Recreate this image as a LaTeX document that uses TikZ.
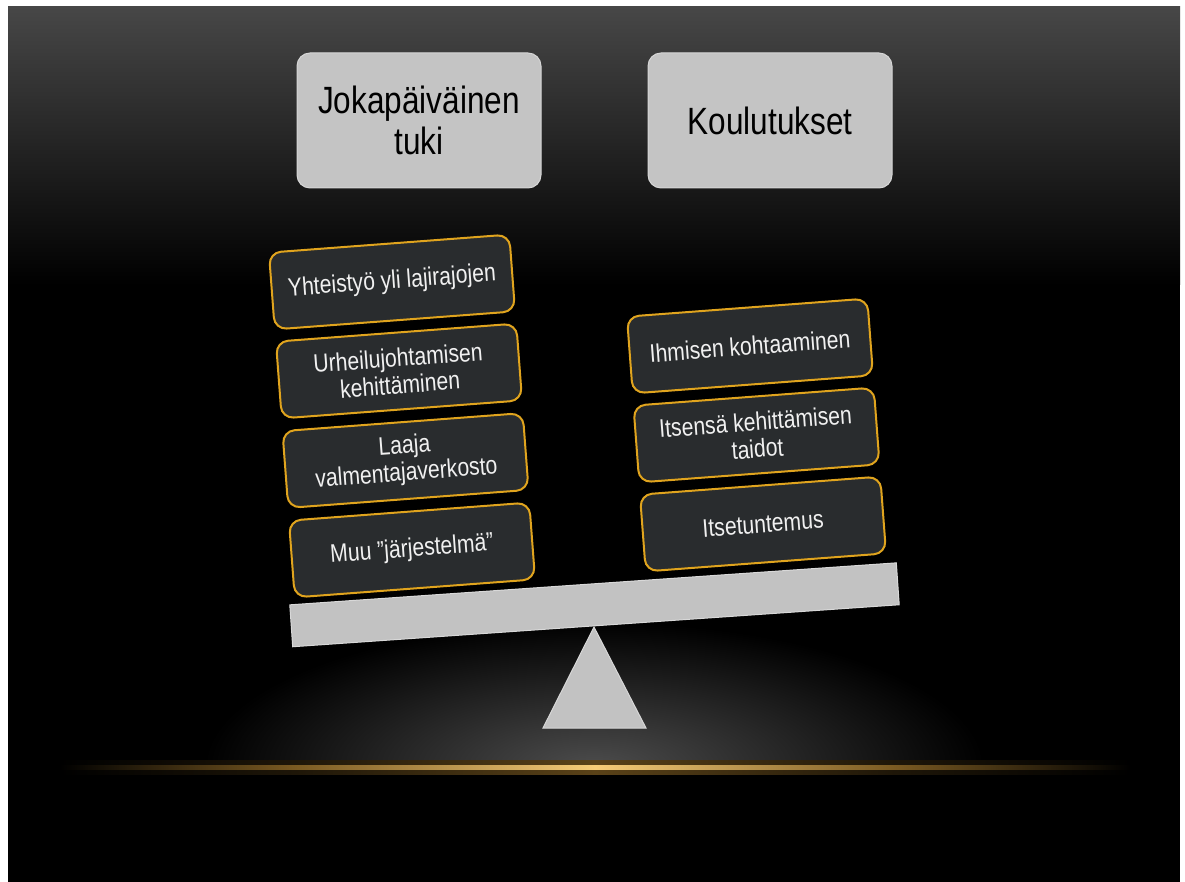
\documentclass[tikz,border=0pt]{standalone}
\usepackage{fontspec}
\newfontfamily\hfont{Liberation Sans}[FakeStretch=0.83]
\definecolor{slidetop}{HTML}{474747}
\definecolor{hdrfill}{HTML}{C4C4C4}
\definecolor{hdrdraw}{HTML}{D6D6D6}
\definecolor{boxfill}{HTML}{292C2E}
\definecolor{boxdraw}{HTML}{E0A41E}
\definecolor{beamfill}{HTML}{C2C2C2}
\definecolor{beamdraw}{HTML}{D8D8D8}
\definecolor{glowC}{HTML}{4C4C4C}
\definecolor{goldC}{HTML}{F6CC78}
\definecolor{goldD}{HTML}{7A5A22}
\definecolor{hazeC}{HTML}{5A4218}
\definecolor{hazeD}{HTML}{1E1608}
\pgfdeclarehorizontalshading{goldline}{100bp}{color(0bp)=(black); color(25bp)=(black); color(36bp)=(goldD); color(50bp)=(goldC); color(64bp)=(goldD); color(75bp)=(black); color(100bp)=(black)}
\pgfdeclarehorizontalshading{goldhaze}{100bp}{color(0bp)=(black); color(25bp)=(black); color(36bp)=(hazeD); color(50bp)=(hazeC); color(64bp)=(hazeD); color(75bp)=(black); color(100bp)=(black)}
\tikzset{
  hdr/.style={draw=hdrdraw, line width=1pt, fill=hdrfill, rounded corners=13pt,
    minimum width=244pt, minimum height=135pt, align=center, inner sep=0pt,
    text=black, font=\hfont\fontsize{38}{41}\selectfont},
  stackbox/.style={draw=boxdraw, line width=2pt, fill=boxfill, rounded corners=12pt,
    minimum width=241pt, minimum height=77pt, align=center, inner sep=0pt,
    text=white!94!black, font=\hfont\fontsize{25.5}{27}\selectfont, rotate=4.3},
  beamst/.style={draw=beamdraw, line width=1pt, fill=beamfill}
}
\begin{document}
\begin{tikzpicture}[x=1pt, y=-1pt]
\useasboundingbox (0,0) rectangle (1185,882);
\fill[white] (0,0) rectangle (1185,882);
% slide background
\fill[black] (8,7) rectangle (1180,882);
\shade[top color=slidetop, bottom color=black] (8,7) rectangle (1180,285);
% glow above the horizon line
\begin{scope}
  \clip (8,7) rectangle (1180,767);
  \shade[inner color=glowC, outer color=black] (594,767) ellipse [x radius=390, y radius=145];
\end{scope}
% horizon line
\shade[shading=goldhaze] (60,760) rectangle (1130,774);
\shade[shading=goldline] (60,765) rectangle (1130,769);
% fulcrum
\coordinate (apex) at (594,627);
\coordinate (bl) at (543,728);
\coordinate (br) at (646,728);
\draw[beamst] (apex) -- (bl) -- (br) -- cycle;
% beam
\node[beamst, rotate=3.96, minimum width=608pt, minimum height=42pt, inner sep=0pt] (beam) at (594.5,604.8) {};
% left stack
\node[stackbox] (l1) at (392,282) {Yhteistyö yli lajirajojen};
\node[stackbox] (l2) at (399,371) {Urheilujohtamisen\\kehittäminen};
\node[stackbox] (l3) at (405.5,460.5) {Laaja\\valmentajaverkosto};
\node[stackbox] (l4) at (412,550) {Muu ”järjestelmä”};
% right stack
\node[stackbox] (r1) at (750,346) {Ihmisen kohtaaminen};
\node[stackbox] (r2) at (756.5,435) {Itsensä kehittämisen\\taidot};
\node[stackbox] (r3) at (763,524) {Itsetuntemus};
% headers
\node[hdr] (h1) at (419,120.5) {Jokapäiväinen\\tuki};
\node[hdr] (h2) at (770,120.5) {Koulutukset};
\end{tikzpicture}
\end{document}
